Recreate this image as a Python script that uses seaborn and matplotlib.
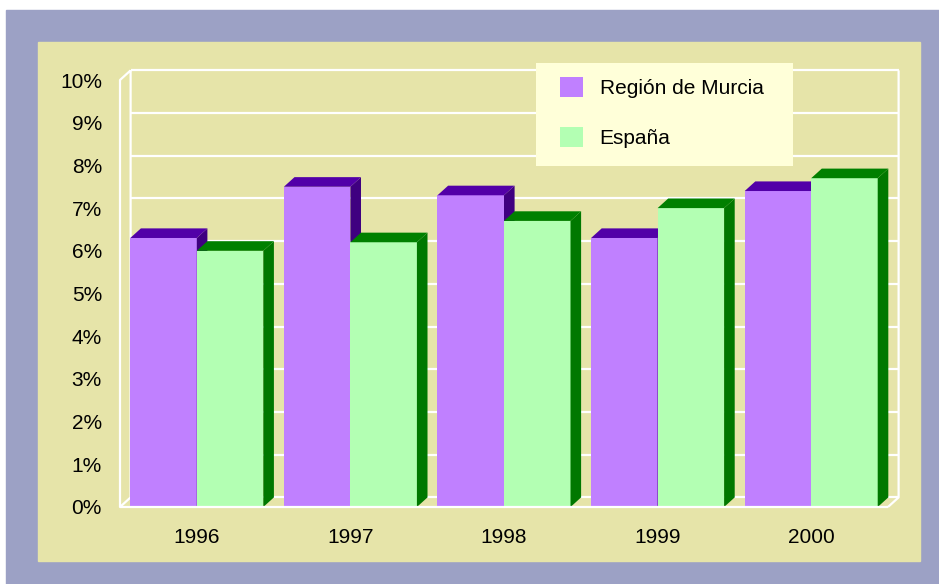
import numpy as np
import pandas as pd
import seaborn as sns
import matplotlib.pyplot as plt
from matplotlib.patches import Polygon, Rectangle, Patch

# Data
years = ["1996", "1997", "1998", "1999", "2000"]
murcia = [6.3, 7.5, 7.3, 6.3, 7.4]
espana = [6.0, 6.2, 6.7, 7.0, 7.7]
series = ["Región de Murcia", "España"]

df = pd.DataFrame({
    "Año": years * 2,
    "Valor": murcia + espana,
    "Serie": [series[0]] * len(years) + [series[1]] * len(years),
})

# colours
front_cols = ["#c080ff", "#b3ffb3"]
top_cols = ["#5200a8", "#008000"]
side_cols = ["#3f0080", "#007800"]
outer_col = "#9ca1c5"
inner_col = "#e6e4a9"
legend_bg = "#ffffd9"

plt.rcParams["font.family"] = ["Liberation Sans", "DejaVu Sans"]
FS = 15

# 3d depth in data units
DX = 0.069
DY = 0.225

fig = plt.figure(figsize=(9.39, 5.84), dpi=100)
fig.patch.set_facecolor("white")
fig.patches.append(Rectangle((6 / 939, 0), 1 - 6 / 939, 574 / 584,
                             transform=fig.transFigure, color=outer_col, zorder=-2))
fig.patches.append(Rectangle((38 / 939, 23 / 584), 882 / 939, 519 / 584,
                             transform=fig.transFigure, color=inner_col, zorder=-1))

ax = fig.add_axes([120 / 939, 77 / 584, 768 / 939, 427 / 584])
ax.set_facecolor("none")

sns.barplot(data=df, x="Año", y="Valor", hue="Serie", palette=front_cols,
            width=0.866, saturation=1, linewidth=0, legend=False, ax=ax)

ax.set_xlim(-0.5, 4.5)
ax.set_ylim(0, 10)

# back wall grid + wall outlines
ax.hlines(np.arange(0, 11) + DY, -0.5 + DX, 4.5 + DX, color="white", lw=1.6,
          clip_on=False, zorder=0.5)
wall = dict(color="white", lw=1.6, clip_on=False, solid_capstyle="butt")
ax.plot([-0.5 + DX, -0.5, -0.5, -0.5 + DX, -0.5 + DX], [10 + DY, 10, 0, DY, 10 + DY],
        zorder=0.6, **wall)
ax.plot([4.5, 4.5 + DX, 4.5 + DX], [0, DY, 10 + DY], zorder=0.6, **wall)
ax.plot([-0.5, 4.5], [0, 0], zorder=5, **wall)

# top and side faces of the bars
for i, cont in enumerate(ax.containers):
    z = 2 + i
    for bar in cont:
        x0 = bar.get_x()
        x1 = x0 + bar.get_width()
        h = bar.get_height()
        bar.set_zorder(z)
        ax.add_patch(Polygon([(x1, 0), (x1, h), (x1 + DX, h + DY), (x1 + DX, DY)],
                             closed=True, facecolor=side_cols[i], edgecolor="none",
                             zorder=z + 0.1, clip_on=False))
        ax.add_patch(Polygon([(x0, h), (x1, h), (x1 + DX, h + DY), (x0 + DX, h + DY)],
                             closed=True, facecolor=top_cols[i], edgecolor="none",
                             zorder=z + 0.1, clip_on=False))

ax.set_yticks(range(0, 11))
ax.set_yticklabels([f"{v}%" for v in range(0, 11)])
ax.tick_params(axis="y", length=0, pad=13, labelsize=FS)
ax.tick_params(axis="x", length=0, pad=15, labelsize=FS)
ax.set_xlabel("")
ax.set_ylabel("")
for s in ax.spines.values():
    s.set_visible(False)
ax.grid(False)

# legend
ax.add_patch(Rectangle((536 / 939, 418 / 584), 257 / 939, 103 / 584,
                       transform=fig.transFigure, facecolor=legend_bg,
                       edgecolor="none", zorder=6, clip_on=False))
handles = [Patch(facecolor=c, edgecolor="none") for c in front_cols]
leg = ax.legend(handles, series, loc="upper left",
                bbox_to_anchor=(560 / 939, 507 / 584), bbox_transform=fig.transFigure,
                frameon=False, fontsize=FS, borderpad=0, borderaxespad=0,
                handlelength=1.1, handleheight=1.1, handletextpad=0.8,
                labelspacing=1.4)
leg.set_zorder(7)

fig.savefig("out.png", dpi=100, facecolor=fig.get_facecolor())
